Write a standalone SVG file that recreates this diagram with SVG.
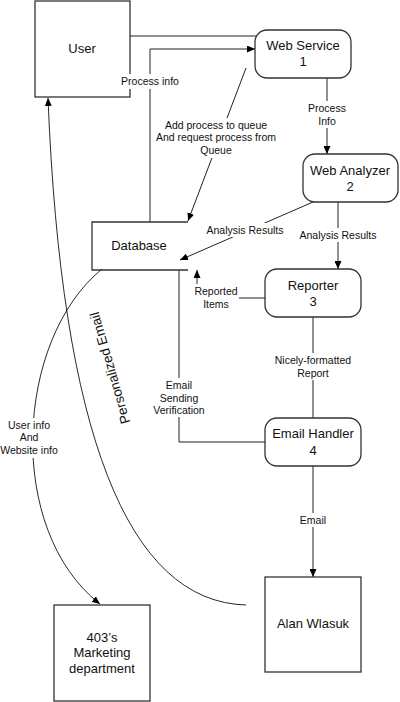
<svg xmlns="http://www.w3.org/2000/svg" width="400" height="702" viewBox="0 0 400 702">
<style>
.box{fill:#fff;stroke:#333;stroke-width:1.3}
.c{fill:none;stroke:#222;stroke-width:1}
.cc{fill:none;stroke:#111;stroke-width:0.9}
.t{font-family:"Liberation Sans",Arial,sans-serif;font-size:13px;fill:#111;text-anchor:middle}
.l{font-family:"Liberation Sans",Arial,sans-serif;font-size:10.5px;fill:#111;text-anchor:middle}
.bg{fill:#fff;stroke:none}
</style>
<defs>
<marker id="ah" markerWidth="8" markerHeight="7" refX="8" refY="3.5" orient="auto" markerUnits="userSpaceOnUse">
<path d="M0,0 L8,3.5 L0,7 z" fill="#000"/>
</marker>
</defs>
<rect width="400" height="702" fill="#fff"/>
<g id="connectors">
<path class="c" d="M130,36 H258"/>
<path class="c" d="M150,222 V49 H255" marker-end="url(#ah)"/>
<path class="c" d="M327,78 V154" marker-end="url(#ah)"/>
<path class="c" d="M246,68 L188,221" marker-end="url(#ah)"/>
<path class="c" d="M313,202 L180,260" marker-end="url(#ah)"/>
<path class="c" d="M338,202 V269" marker-end="url(#ah)"/>
<path class="c" d="M265,298 H197 V270" marker-end="url(#ah)"/>
<path class="c" d="M313,317 V418"/>
<path class="c" d="M179,270 V442 H265"/>
<path class="c" d="M313,466 V577" marker-end="url(#ah)"/>
<path class="cc" d="M246,605 Q68,600 48,98" marker-end="url(#ah)"/>
<path class="cc" d="M102,269 C15,340 5,530 100,604" marker-end="url(#ah)"/>
</g>
<g id="user">
<rect class="box" x="35" y="1" width="95" height="96"/>
<text class="t" x="82" y="53">User</text>
</g>
<g id="web-service">
<rect class="box" x="255" y="30" width="96" height="48" rx="12"/>
<text class="t" x="303" y="50">Web Service</text>
<text class="t" x="303" y="66">1</text>
</g>
<g id="web-analyzer">
<rect class="box" x="303" y="154" width="95" height="48" rx="12"/>
<text class="t" x="350" y="175">Web Analyzer</text>
<text class="t" x="350" y="191">2</text>
</g>
<g id="database">
<path class="box" style="fill:none" d="M188,222 H92 V270 H188"/>
<text class="t" x="139" y="250">Database</text>
</g>
<g id="reporter">
<rect class="box" x="265" y="269" width="96" height="48" rx="12"/>
<text class="t" x="313" y="290">Reporter</text>
<text class="t" x="313" y="306">3</text>
</g>
<g id="email-handler">
<rect class="box" x="265" y="418" width="96" height="48" rx="12"/>
<text class="t" x="313" y="438">Email Handler</text>
<text class="t" x="313" y="455">4</text>
</g>
<g id="alan-wlasuk">
<rect class="box" x="265" y="577" width="96" height="95"/>
<text class="t" x="313" y="628">Alan Wlasuk</text>
</g>
<g id="marketing">
<rect class="box" x="54" y="605" width="96" height="96"/>
<text class="t" x="102" y="642">403’s</text>
<text class="t" x="102" y="657">Marketing</text>
<text class="t" x="102" y="673">department</text>
</g>
<g id="connector-labels">
<rect class="bg" x="120" y="74" width="60" height="15"/>
<text class="l" x="150" y="85">Process info</text>
<rect class="bg" x="309" y="101" width="36" height="27"/>
<text class="l" x="327" y="112">Process</text>
<text class="l" x="327" y="125">Info</text>
<rect class="bg" x="155" y="118" width="123" height="40"/>
<text class="l" x="216" y="129">Add process to queue</text>
<text class="l" x="216" y="141">And request process from</text>
<text class="l" x="216" y="154">Queue</text>
<rect class="bg" x="204" y="223" width="82" height="14"/>
<text class="l" x="245" y="234">Analysis Results</text>
<rect class="bg" x="298" y="228" width="80" height="14"/>
<text class="l" x="338" y="239">Analysis Results</text>
<rect class="bg" x="194" y="284" width="45" height="27"/>
<text class="l" x="216" y="295">Reported</text>
<text class="l" x="216" y="308">Items</text>
<rect class="bg" x="272" y="353" width="82" height="27"/>
<text class="l" x="313" y="364">Nicely-formatted</text>
<text class="l" x="313" y="377">Report</text>
<rect class="bg" x="151" y="378" width="56" height="39"/>
<text class="l" x="179" y="389">Email</text>
<text class="l" x="179" y="402">Sending</text>
<text class="l" x="179" y="414">Verification</text>
<rect class="bg" x="298" y="513" width="30" height="14"/>
<text class="l" x="313" y="524">Email</text>
<rect class="bg" x="0" y="418" width="60" height="40"/>
<text class="l" x="29" y="429">User info</text>
<text class="l" x="29" y="441">And</text>
<text class="l" x="29" y="454">Website info</text>
<text class="t" transform="translate(110,368) rotate(-106)" y="4.5" style="font-size:13.5px">Personalized Email</text>
</g>
</svg>
